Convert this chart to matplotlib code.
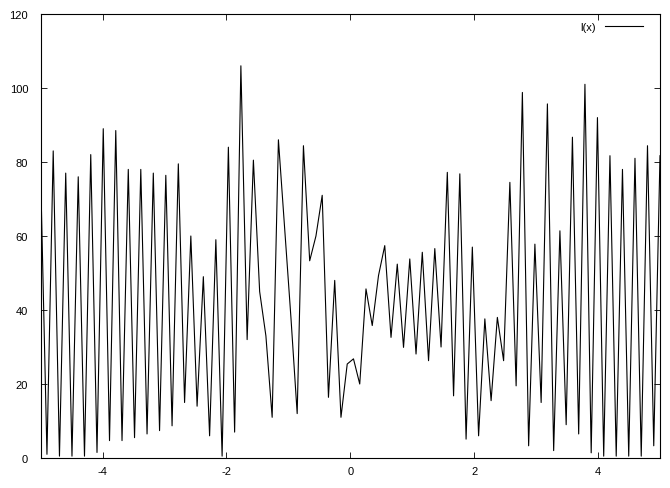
import numpy as np
import matplotlib
matplotlib.use("Agg")
import matplotlib.pyplot as plt

# 100 samples on [-5, 5] (gnuplot default sampling)
x_min, x_max = -5, 5
n_samples = 100
l_values = [
    76, 1, 83, 0.5, 77, 0.5, 76, 0.5, 82, 1.5,
    89, 4.7, 88.5, 4.7, 78, 5.5, 78, 6.5, 77, 7.4,
    76.4, 8.7, 79.5, 15, 60, 14, 49, 6, 59, 0.5,
    84, 7, 106, 32, 80.5, 45, 33, 11, 86, 62,
    38, 12, 84.4, 53.3, 60, 71, 16.4, 48, 11, 25.4,
    26.8, 20, 45.7, 35.8, 49.3, 57.4, 32.6, 52.4, 29.9, 53.8,
    28.1, 55.6, 26.3, 56.6, 30, 77.2, 16.8, 76.8, 5.1, 57,
    6, 37.6, 15.5, 38, 26.3, 74.5, 19.5, 98.8, 3.3, 57.8,
    15, 95.7, 2, 61.4, 9, 86.7, 6.5, 101, 1.4, 92,
    0.5, 81.7, 0.5, 78, 0.5, 81, 0.5, 84.4, 3.3, 81.7,
]
x_ticks = [-4, -2, 0, 2, 4]
y_ticks = [0, 20, 40, 60, 80, 100, 120]

plt.rcParams['font.family'] = ['Liberation Sans', 'DejaVu Sans']

fig = plt.figure(figsize=(6.7, 4.89), dpi=100)
ax = fig.add_axes([40.7 / 670, 1 - 459 / 489, (660 - 40.7) / 670, (459 - 15) / 489])

xs = np.linspace(x_min, x_max, n_samples)
ax.plot(xs, l_values, color='black', linewidth=0.8, label='l(x)')

ax.set_xlim(x_min, x_max)
ax.set_ylim(0, 120)
ax.set_xticks(x_ticks)
ax.set_yticks(y_ticks)
ax.set_xticklabels([str(t) for t in x_ticks])
ax.tick_params(direction='in', length=4.5, width=0.6, top=True, right=True,
               labelsize=8)
ax.tick_params(axis='y', pad=9)
ax.tick_params(axis='x', pad=6)
for s in ax.spines.values():
    s.set_linewidth(0.8)

ax.legend(loc='upper right', frameon=False, markerfirst=False, fontsize=8,
          handlelength=3.4, borderaxespad=0.3, bbox_to_anchor=(0.985, 1.0))

fig.savefig('out.png', dpi=100)
